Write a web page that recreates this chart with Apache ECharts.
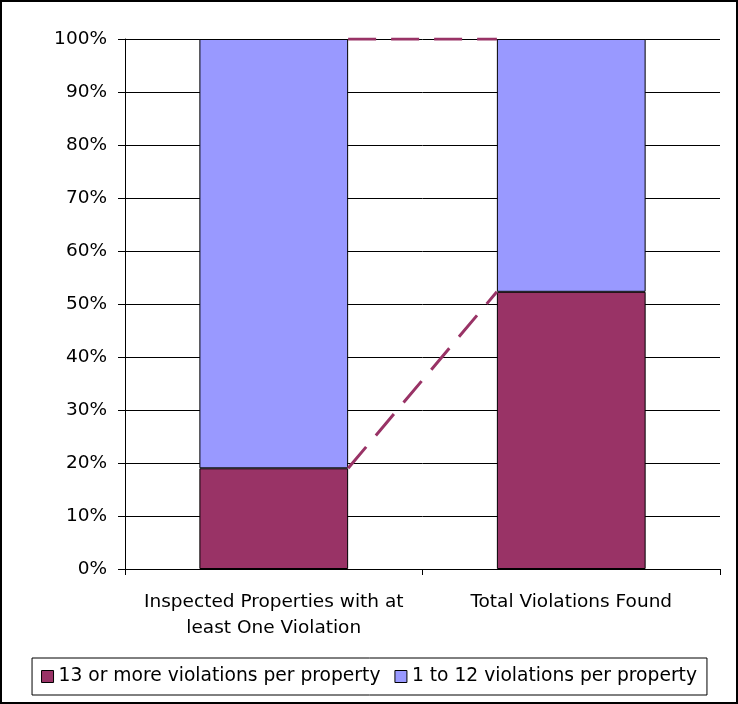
<!DOCTYPE html>
<html>
<head>
<meta charset="utf-8">
<script src="https://cdn.jsdelivr.net/npm/echarts@6/dist/echarts.min.js"></script>
<style>
  html, body { margin: 0; padding: 0; background: #fff; }
  #chart { width: 738px; height: 704px; box-sizing: border-box; border: 2px solid #000; }
</style>
</head>
<body>
<div id="chart"></div>
<script>
var categories = ['Inspected Properties with at\nleast One Violation', 'Total Violations Found']
var seriesNames = ['13 or more violations per property', '1 to 12 violations per property']
var heavyValues = [19, 52.3]
var lightValues = [81, 47.7]
var yTicks = [0, 10, 20, 30, 40, 50, 60, 70, 80, 90, 100]
var colors = ['#993366', '#9999FF']
var barFraction = 0.5
var font = "'DejaVu Sans', sans-serif"

// connector lines run from right edge of bar 1 to left edge of bar 2
function connector (a, b) {
  var x1 = 0.5 + barFraction / 2
  var x2 = 1.5 - barFraction / 2
  return [[x1, a], [x2, b]]
}

var chart = echarts.init(document.getElementById('chart'))
chart.setOption({
  animation: false,
  textStyle: { fontFamily: font },
  grid: { left: 123, right: 16, top: 37, bottom: 133 },
  xAxis: [
    {
      type: 'category',
      data: categories,
      axisLine: { lineStyle: { color: '#000', width: 1 } },
      axisTick: { show: true, length: 6, lineStyle: { color: '#000' } },
      axisLabel: { color: '#000', fontSize: 18.5, lineHeight: 26, margin: 20, interval: 0, fontFamily: font }
    },
    {
      type: 'value',
      min: 0,
      max: 2,
      show: false
    }
  ],
  yAxis: {
    type: 'value',
    min: 0,
    max: 100,
    interval: 10,
    axisLine: { show: true, lineStyle: { color: '#000' } },
    axisTick: { show: true, length: 7, lineStyle: { color: '#000' } },
    splitLine: { lineStyle: { color: '#000', width: 1 } },
    axisLabel: {
      color: '#000', fontSize: 18.5, margin: 18, fontFamily: font,
      formatter: function (v) { return yTicks.indexOf(v) >= 0 ? v + '%' : '' }
    }
  },
  legend: {
    left: 'center',
    top: 656,
    data: seriesNames,
    icon: 'rect',
    itemWidth: 12,
    itemHeight: 12,
    itemGap: 14,
    borderColor: '#000',
    borderWidth: 1,
    padding: [9, 10, 9, 9],
    textStyle: { color: '#000', fontSize: 18.7, fontFamily: font },
    itemStyle: { borderColor: '#000', borderWidth: 1 }
  },
  series: [
    {
      name: seriesNames[0],
      type: 'bar',
      stack: 'total',
      data: heavyValues,
      barWidth: (barFraction * 100) + '%',
      itemStyle: { color: colors[0], borderColor: '#000', borderWidth: 1 }
    },
    {
      name: seriesNames[1],
      type: 'bar',
      stack: 'total',
      data: lightValues,
      itemStyle: { color: colors[1], borderColor: '#000', borderWidth: 1 }
    },
    {
      type: 'line',
      xAxisIndex: 1,
      data: connector(heavyValues[0], heavyValues[1]),
      symbol: 'none',
      silent: true,
      lineStyle: { color: colors[0], width: 3, type: [28, 15] },
      z: 5
    },
    {
      type: 'line',
      xAxisIndex: 1,
      data: connector(100, 100),
      symbol: 'none',
      silent: true,
      lineStyle: { color: colors[0], width: 3, type: [28, 15] },
      z: 5
    }
  ]
})
</script>
</body>
</html>
